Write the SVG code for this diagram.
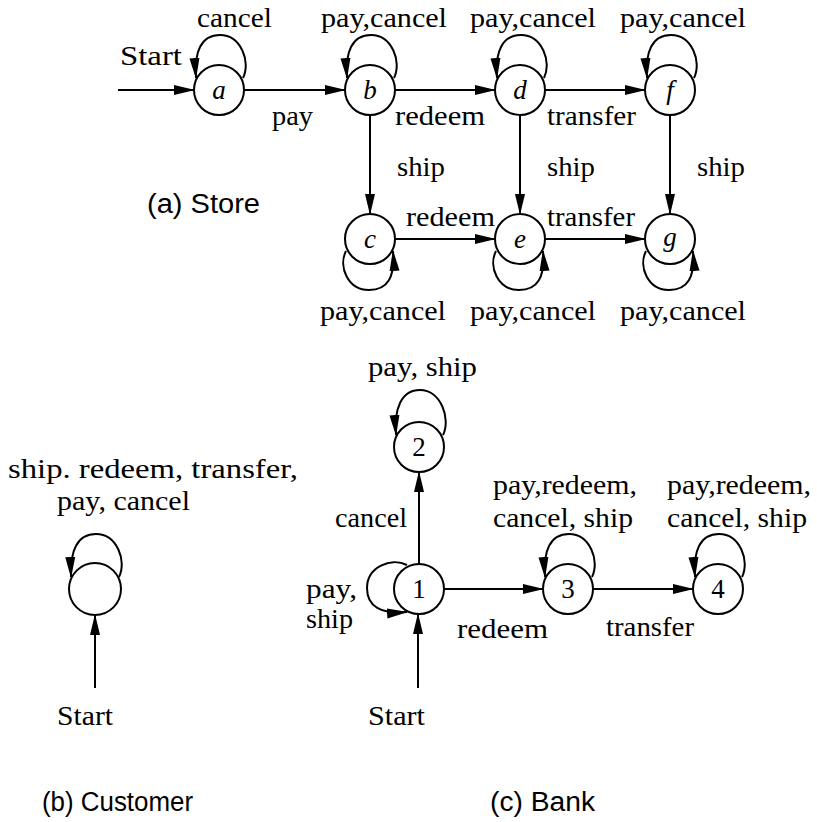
<svg xmlns="http://www.w3.org/2000/svg" width="817" height="822" viewBox="0 0 817 822">
<style>
.t{font-family:"Liberation Serif","Times New Roman",serif;font-size:27px;fill:#000}
.n{font-family:"Liberation Serif","Times New Roman",serif;font-size:27px;fill:#000;text-anchor:middle}
.i{font-style:italic}
.s{font-family:"Liberation Sans",Arial,sans-serif;font-size:27px;fill:#000}
.node{fill:#fff;stroke:#000;stroke-width:2}
.e{fill:none;stroke:#000;stroke-width:2;marker-end:url(#arr)}
</style>
<defs>
<marker id="arr" markerUnits="userSpaceOnUse" markerWidth="21" markerHeight="11" viewBox="0 0 21 11" refX="20" refY="5.5" orient="auto"><path d="M0,0.5 L21,5.5 L0,10.5 z" fill="#000"/></marker>
</defs>
<rect width="817" height="822" fill="#fff"/>
<g id="connectors">
<path class="e" d="M118,90 H194"/>
<path class="e" d="M244,90 H345"/>
<path class="e" d="M395,90 H495"/>
<path class="e" d="M545,90 H645"/>
<path class="e" d="M370,115 V214"/>
<path class="e" d="M520,115 V214"/>
<path class="e" d="M670,115 V214"/>
<path class="e" d="M395,239 H495"/>
<path class="e" d="M545,239 H645"/>
<path class="e" d="M419,564 V472"/>
<path class="e" d="M444,589 H543"/>
<path class="e" d="M593,589 H693"/>
<path class="e" d="M418,688 V614"/>
<path class="e" d="M95,688 V615"/>
<path class="e" d="M243,78 C251,62 241,35 220,35 C201,35 194,52 196,78"/>
<path class="e" d="M394,78 C402,62 392,35 371,35 C352,35 345,52 347,78"/>
<path class="e" d="M544,78 C552,62 542,35 521,35 C502,35 495,52 497,78"/>
<path class="e" d="M694,78 C702,62 692,35 671,35 C652,35 645,52 647,78"/>
<path class="e" d="M346,251 C338,267 348,290 369,290 C388,290 395,277 393,251"/>
<path class="e" d="M496,251 C488,267 498,290 519,290 C538,290 545,277 543,251"/>
<path class="e" d="M646,251 C638,267 648,290 669,290 C688,290 695,277 693,251"/>
<path class="e" d="M443,435 C451,419 441,390 420,390 C401,390 394,409 396,435"/>
<path class="e" d="M592,577 C600,561 590,534 569,534 C550,534 543,551 545,577"/>
<path class="e" d="M742,577 C750,561 740,534 719,534 C700,534 693,551 695,577"/>
<path class="e" d="M119,577 C127,561 117,534 96,534 C77,534 70,551 71,577"/>
<path class="e" d="M407,565 C391,557 367,567 367,588 C367,607 381,614 407,612"/>
</g>
<g id="node-a"><circle class="node" cx="219" cy="90" r="25"/><text class="n i" x="219" y="99">a</text></g>
<g id="node-b"><circle class="node" cx="370" cy="90" r="25"/><text class="n i" x="370" y="99">b</text></g>
<g id="node-d"><circle class="node" cx="520" cy="90" r="25"/><text class="n i" x="520" y="99">d</text></g>
<g id="node-f"><circle class="node" cx="670" cy="90" r="25"/><text class="n i" x="670" y="99">f</text></g>
<g id="node-c"><circle class="node" cx="370" cy="239" r="25"/><text class="n i" x="370" y="248">c</text></g>
<g id="node-e"><circle class="node" cx="520" cy="239" r="25"/><text class="n i" x="520" y="248">e</text></g>
<g id="node-g"><circle class="node" cx="670" cy="239" r="25"/><text class="n i" x="670" y="246">g</text></g>
<g id="node-customer"><circle class="node" cx="95" cy="589" r="26"/></g>
<g id="node-2"><circle class="node" cx="419" cy="447" r="25"/><text class="n" x="419" y="456">2</text></g>
<g id="node-1"><circle class="node" cx="419" cy="589" r="25"/><text class="n" x="419" y="598">1</text></g>
<g id="node-3"><circle class="node" cx="568" cy="589" r="25"/><text class="n" x="568" y="598">3</text></g>
<g id="node-4"><circle class="node" cx="718" cy="589" r="25"/><text class="n" x="718" y="598">4</text></g>
<g id="labels">
<text class="t" x="120" y="65" textLength="62" lengthAdjust="spacingAndGlyphs">Start</text>
<text class="t" x="197" y="27" textLength="75" lengthAdjust="spacingAndGlyphs">cancel</text>
<text class="t" x="321" y="27" textLength="126" lengthAdjust="spacingAndGlyphs">pay,cancel</text>
<text class="t" x="470" y="27" textLength="126" lengthAdjust="spacingAndGlyphs">pay,cancel</text>
<text class="t" x="620" y="27" textLength="126" lengthAdjust="spacingAndGlyphs">pay,cancel</text>
<text class="t" x="272" y="125" textLength="41" lengthAdjust="spacingAndGlyphs">pay</text>
<text class="t" x="395" y="125" textLength="90" lengthAdjust="spacingAndGlyphs">redeem</text>
<text class="t" x="547" y="125" textLength="89" lengthAdjust="spacingAndGlyphs">transfer</text>
<text class="t" x="397" y="176" textLength="48" lengthAdjust="spacingAndGlyphs">ship</text>
<text class="t" x="547" y="176" textLength="48" lengthAdjust="spacingAndGlyphs">ship</text>
<text class="t" x="697" y="176" textLength="48" lengthAdjust="spacingAndGlyphs">ship</text>
<text class="s" x="147" y="213" textLength="113" lengthAdjust="spacingAndGlyphs">(a) Store</text>
<text class="t" x="406" y="226" textLength="89" lengthAdjust="spacingAndGlyphs">redeem</text>
<text class="t" x="547" y="226" textLength="88" lengthAdjust="spacingAndGlyphs">transfer</text>
<text class="t" x="320" y="320" textLength="126" lengthAdjust="spacingAndGlyphs">pay,cancel</text>
<text class="t" x="470" y="320" textLength="126" lengthAdjust="spacingAndGlyphs">pay,cancel</text>
<text class="t" x="620" y="320" textLength="126" lengthAdjust="spacingAndGlyphs">pay,cancel</text>
<text class="t" x="368" y="376" textLength="109" lengthAdjust="spacingAndGlyphs">pay, ship</text>
<text class="t" x="8" y="478" textLength="290" lengthAdjust="spacingAndGlyphs">ship. redeem, transfer,</text>
<text class="t" x="57" y="510" textLength="133" lengthAdjust="spacingAndGlyphs">pay, cancel</text>
<text class="t" x="493" y="494" textLength="144" lengthAdjust="spacingAndGlyphs">pay,redeem,</text>
<text class="t" x="493" y="527" textLength="140" lengthAdjust="spacingAndGlyphs">cancel, ship</text>
<text class="t" x="667" y="494" textLength="144" lengthAdjust="spacingAndGlyphs">pay,redeem,</text>
<text class="t" x="667" y="527" textLength="140" lengthAdjust="spacingAndGlyphs">cancel, ship</text>
<text class="t" x="335" y="527" textLength="72" lengthAdjust="spacingAndGlyphs">cancel</text>
<text class="t" x="306" y="598" textLength="51" lengthAdjust="spacingAndGlyphs">pay,</text>
<text class="t" x="306" y="628" textLength="47" lengthAdjust="spacingAndGlyphs">ship</text>
<text class="t" x="457" y="638" textLength="91" lengthAdjust="spacingAndGlyphs">redeem</text>
<text class="t" x="606" y="636" textLength="88" lengthAdjust="spacingAndGlyphs">transfer</text>
<text class="t" x="368" y="725" textLength="57" lengthAdjust="spacingAndGlyphs">Start</text>
<text class="t" x="57" y="725" textLength="56" lengthAdjust="spacingAndGlyphs">Start</text>
<text class="s" x="42" y="811" textLength="151" lengthAdjust="spacingAndGlyphs">(b) Customer</text>
<text class="s" x="490" y="811" textLength="105" lengthAdjust="spacingAndGlyphs">(c) Bank</text>
</g>
</svg>
